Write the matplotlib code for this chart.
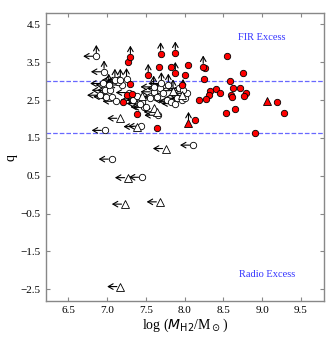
import matplotlib
matplotlib.use("Agg")
import matplotlib.pyplot as plt

# detections (red circles)
det_x = [7.27, 7.67, 7.82, 8.01, 8.05, 8.26, 8.55, 8.76, 8.25, 7.97, 8.59, 8.63,
         8.72, 8.41, 8.33, 8.46, 8.60, 8.61, 8.79, 8.77, 8.32, 8.19, 8.27, 9.19,
         8.65, 8.53, 9.28, 8.13, 8.91, 7.29, 7.26, 7.32, 7.21, 7.39, 7.64]
det_q = [3.50, 3.38, 3.38, 3.16, 3.44, 3.36, 3.67, 3.21, 3.05, 2.91, 3.01, 2.83,
         2.83, 2.79, 2.75, 2.69, 2.63, 2.57, 2.69, 2.61, 2.63, 2.50, 2.52, 2.46,
         2.26, 2.15, 2.17, 1.97, 1.64, 2.92, 2.63, 2.66, 2.46, 2.13, 1.75]

# detections with lower limit on q (red circle + up arrow)
detlim_x = [7.30, 7.69, 7.88, 7.53, 7.88, 8.24]
detlim_q = [3.64, 3.73, 3.75, 3.16, 3.21, 3.38]

# red triangles
tri_x = [9.06, 8.05]
tri_q = [2.48, 1.89]
tri_up = [False, True]

# upper limits on M_H2 (open circles, left arrow)
oc_x = [6.97, 8.11, 7.06, 7.45, 7.44, 7.65, 7.47, 6.91, 6.99, 7.06, 7.11, 6.97,
        7.04, 7.19, 6.95, 7.42, 7.55, 7.60, 7.64, 7.68, 7.72, 7.77, 7.83, 7.87,
        7.90, 7.96, 8.00, 8.03, 7.93, 7.34, 7.45, 7.50, 7.42, 7.14, 7.38, 7.28]
oc_q = [1.70, 1.31, 0.94, 0.46, 1.81, 2.10, 2.32, 2.63, 2.59, 2.59, 2.47, 2.76,
        2.76, 2.90, 2.94, 2.50, 2.55, 2.72, 2.59, 2.81, 2.68, 2.50, 2.46, 2.41,
        2.55, 2.50, 2.55, 2.68, 2.81, 2.50, 2.46, 2.31, 2.41, 2.98, 2.60, 2.70]

# open circles with both limits (left + up arrows)
ocup_x = [6.86, 6.96, 7.10, 7.17, 7.60, 7.70, 7.79, 7.98, 7.02, 7.25]
ocup_q = [3.66, 3.25, 3.03, 3.03, 2.85, 2.94, 2.90, 2.76, 2.90, 3.05]

# open triangles (left arrow)
ot_x = [7.76, 7.27, 7.23, 7.68, 7.17, 7.38, 7.17, 7.60, 7.97, 7.45, 7.85, 7.64]
ot_q = [1.22, 0.45, -0.25, -0.19, -2.43, 1.80, 2.02, 2.28, 2.63, 2.62, 2.75, 2.19]
ot_up = [False, False, False, False, False, False, False, False, True, False, True, False]

fig = plt.figure(figsize=(3.26, 3.37), dpi=100)
ax = fig.add_axes([0.141, 0.107, 0.853, 0.854])

plt.rcParams["mathtext.fontset"] = "stix"
serif = "Liberation Serif"

dx = 0.17
dq = 0.30
aprops = dict(arrowstyle="->,head_length=0.35,head_width=0.2", lw=0.8,
              color="black", shrinkA=2.5, shrinkB=0)


def left_arrow(x, q):
    ax.annotate("", xy=(x - dx, q), xytext=(x, q), arrowprops=aprops, zorder=2)


def up_arrow(x, q):
    ax.annotate("", xy=(x, q + dq), xytext=(x, q), arrowprops=aprops, zorder=2)


for x, q in zip(oc_x, oc_q):
    left_arrow(x, q)
for x, q in zip(ocup_x, ocup_q):
    left_arrow(x, q)
    up_arrow(x, q)
for x, q, u in zip(ot_x, ot_q, ot_up):
    left_arrow(x, q)
    if u:
        up_arrow(x, q)
for x, q in zip(detlim_x, detlim_q):
    up_arrow(x, q)
for x, q, u in zip(tri_x, tri_q, tri_up):
    if u:
        up_arrow(x, q)

ms = 4.6
ax.plot(oc_x + ocup_x, oc_q + ocup_q, "o", ms=ms, mfc="white", mec="black",
        mew=0.6, ls="none", zorder=3)
ax.plot(ot_x, ot_q, "^", ms=ms + 0.8, mfc="white", mec="black", mew=0.6,
        ls="none", zorder=3)
ax.plot(det_x + detlim_x, det_q + detlim_q, "o", ms=ms, mfc="red", mec="black",
        mew=0.6, ls="none", zorder=4)
ax.plot(tri_x, tri_q, "^", ms=ms + 0.8, mfc="red", mec="black", mew=0.6,
        ls="none", zorder=4)

ax.axhline(3.0, color="#4d4dff", ls="--", lw=0.9, alpha=0.85, zorder=1)
ax.axhline(1.64, color="#4d4dff", ls="--", lw=0.9, alpha=0.85, zorder=1)

ax.text(9.0, 4.15, "FIR Excess", color="#3333ff", ha="center", va="center",
        fontsize=7.5, family=serif)
ax.text(9.06, -2.12, "Radio Excess", color="#3333ff", ha="center", va="center",
        fontsize=7.5, family=serif)

ax.set_xlim(6.21, 9.80)
ax.set_ylim(-2.81, 4.80)
ax.set_xticks([6.5, 7.0, 7.5, 8.0, 8.5, 9.0, 9.5])
ax.set_yticks([-2.5, -1.5, -0.5, 0.5, 1.5, 2.5, 3.5, 4.5])
ax.set_xticklabels(["6.5", "7.0", "7.5", "8.0", "8.5", "9.0", "9.5"])
ax.set_yticklabels(["\u22122.5", "\u22121.5", "\u22120.5", "0.5", "1.5", "2.5", "3.5", "4.5"])
ax.tick_params(direction="in", top=True, right=True, length=3, width=0.8,
               color="#888888", labelsize=8, pad=4)
for lab in ax.get_xticklabels() + ax.get_yticklabels():
    lab.set_family(serif)
for sp in ax.spines.values():
    sp.set_color("#888888")
    sp.set_linewidth(1.0)

ax.set_xlabel(r"log ($M_{\rm H2}$/M$_\odot$)", fontsize=10, family=serif, labelpad=1)
ax.set_ylabel("q", fontsize=10, family=serif, labelpad=2)

fig.savefig("out.png", dpi=100)
